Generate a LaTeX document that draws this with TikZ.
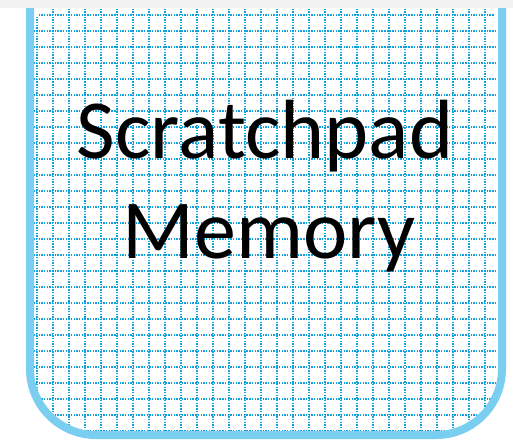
\documentclass[tikz,border=0pt]{standalone}
\usepackage{fontspec}
\setmainfont{Carlito}
\definecolor{gridblue}{RGB}{18,160,220}
\definecolor{borderblue}{RGB}{122,207,240}
\definecolor{topgray}{RGB}{242,242,242}
\tikzset{
  gridline/.style={gridblue, line width=1.6pt, dash pattern=on 1.4pt off 1.3pt},
  boxborder/.style={borderblue, line width=8pt},
  bigtext/.style={font=\fontsize{84}{100}\selectfont, inner sep=0pt, anchor=base}
}
\begin{document}
\begin{tikzpicture}[x=1pt,y=-1pt]
\useasboundingbox (0,0) rectangle (513,439);
\fill[white] (0,0) rectangle (513,439);
\begin{scope}
  \clip[rounded corners=66pt] (30,-20) -- (30,435) -- (502,435) -- (502,-20) -- cycle;
  \foreach \i in {0,...,28} {
    \draw[gridline] (36.7+16*\i,-5) -- (36.7+16*\i,440);
  }
  \foreach \j in {0,...,26} {
    \draw[gridline] (25,15+16*\j) -- (510,15+16*\j);
  }
\end{scope}
\draw[boxborder, rounded corners=66pt] (30,-20) -- (30,435) -- (502,435) -- (502,-20);
\fill[topgray] (0,0) rectangle (513,8);
\node[bigtext] (l1) at (265,158) {Scratchpad};
\node[bigtext] (l2) at (269,258) {Memory};
\end{tikzpicture}
\end{document}
